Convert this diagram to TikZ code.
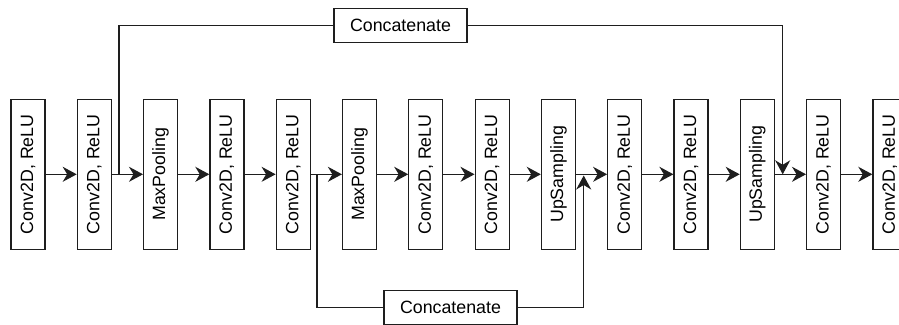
\documentclass[tikz,border=0pt]{standalone}
\usepackage{fontspec}
\setmainfont{Liberation Sans}
\usetikzlibrary{arrows.meta}
\definecolor{ln}{HTML}{1E1E1E}
\tikzset{
  layer/.style={draw=ln, line width=1.2pt, minimum width=34pt, minimum height=150pt, inner sep=0pt, font=\fontsize{17.8}{20}\selectfont},
  catbox/.style={draw=ln, line width=1.2pt, minimum width=133pt, minimum height=34pt, inner sep=0pt, font=\fontsize{17.8}{20}\selectfont},
  link/.style={draw=ln, line width=1.2pt},
  arr/.style={link, -{Stealth[length=14pt, width=15pt, inset=4.5pt]}}
}
\newcommand{\vtext}[1]{\rotatebox{90}{#1}}
\begin{document}
\begin{tikzpicture}[x=1pt, y=-1pt]
\useasboundingbox (0,0) rectangle (899,324);
\clip (0,0) rectangle (899,324);
\fill[white] (0,0) rectangle (899,324);
\foreach \i/\t in {1/{Conv2D, ReLU},2/{Conv2D, ReLU},3/MaxPooling,4/{Conv2D, ReLU},5/{Conv2D, ReLU},6/MaxPooling,7/{Conv2D, ReLU},8/{Conv2D, ReLU},9/UpSampling,10/{Conv2D, ReLU},11/{Conv2D, ReLU},12/UpSampling,13/{Conv2D, ReLU},14/{Conv2D, ReLU}}
  \node[layer] (b\i) at ({28+66.3*(\i-1)}, 174.3) {\vtext{\t}};
\foreach \i [evaluate=\i as \j using int(\i+1)] in {1,...,13}
  \draw[arr] (b\i) -- (b\j);
\node[catbox] (ctop) at (400.5, 25.2) {Concatenate};
\node[catbox] (cbot) at (450.5, 307.6) {Concatenate};
\coordinate (t1) at (119, 174.3);
\coordinate (t2) at (782.7, 174.3);
\coordinate (s1) at (317, 174.3);
\coordinate (s2) at (583.7, 175.5);
\draw[link] (t1) |- (ctop.west);
\draw[arr] (ctop.east) -| (t2);
\draw[link] (s1) |- (cbot.west);
\draw[arr] (cbot.east) -| (s2);
\end{tikzpicture}
\end{document}
